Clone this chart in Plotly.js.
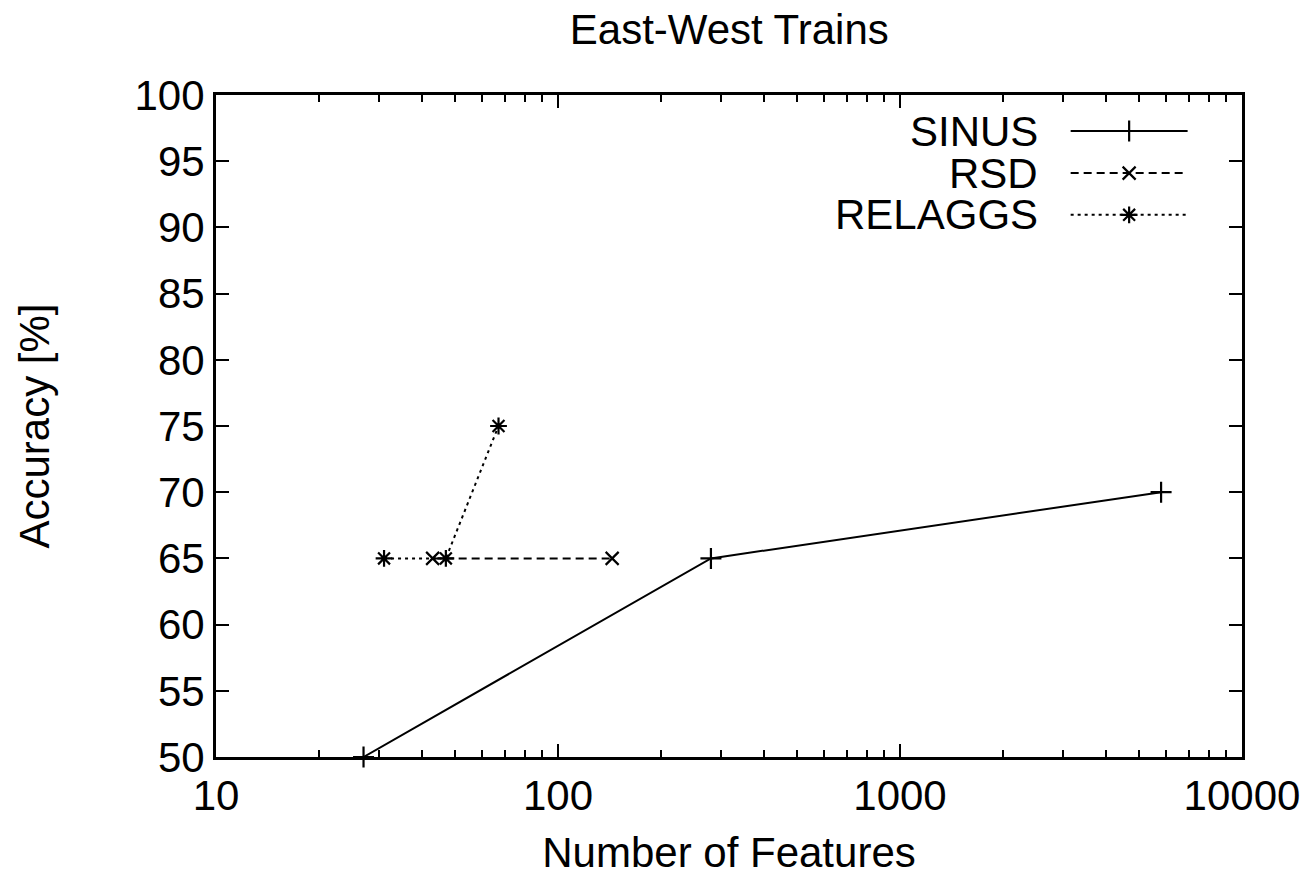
<!DOCTYPE html>
<html>
<head>
<meta charset="utf-8">
<script src="https://cdn.plot.ly/plotly-3.0.1.min.js"></script>
<style>html,body{margin:0;padding:0;background:#fff}#chart{width:1314px;height:890px}</style>
</head>
<body>
<div id="chart"></div>
<script>
// ---- data ----
const seriesNames = ["SINUS", "RSD", "RELAGGS"];
const sinusFeatures = [27, 280, 5800];
const sinusAccuracy = [50, 65, 70];
const rsdFeatures = [43, 144];
const rsdAccuracy = [65, 65];
const relaggsFeatures = [31, 47, 67];
const relaggsAccuracy = [65, 65, 75];
const xTickVals = [10, 100, 1000, 10000];
const xTickText = ["10", "100", "1000", "10000"];
const yTickVals = [50, 55, 60, 65, 70, 75, 80, 85, 90, 95, 100];

// ---- styles ----
const styles = [
  {dash: "solid", symbol: "cross-thin-open", size: 15},
  {dash: "8px,5px", symbol: "x-thin-open", size: 13},
  {dash: "3px,4px", symbol: "asterisk-open", size: 14}
];
const dataX = [sinusFeatures, rsdFeatures, relaggsFeatures];
const dataY = [sinusAccuracy, rsdAccuracy, relaggsAccuracy];

const traces = [];
for (let i = 0; i < 3; i++) {
  traces.push({
    x: dataX[i], y: dataY[i], type: "scatter", mode: "lines+markers",
    name: seriesNames[i], showlegend: false, cliponaxis: false,
    line: {color: "black", width: 2, dash: styles[i].dash},
    marker: {symbol: styles[i].symbol, size: styles[i].size, color: "black",
             line: {color: "black", width: 2.2}}
  });
}

// ---- custom legend (gnuplot style: label on the left, sample on the right) ----
const legRowY = [0.9456, 0.882, 0.819];
const legLineX0 = 0.833, legLineX1 = 0.947, legSymX = 0.89, legTextX = 0.803;
const annotations = [];
for (let i = 0; i < 3; i++) {
  traces.push({
    x: [legLineX0, legLineX1], y: [legRowY[i], legRowY[i]], xaxis: "x2", yaxis: "y2",
    type: "scatter", mode: "lines", showlegend: false, hoverinfo: "skip",
    line: {color: "black", width: 2, dash: styles[i].dash}
  });
  traces.push({
    x: [legSymX], y: [legRowY[i]], xaxis: "x2", yaxis: "y2",
    type: "scatter", mode: "markers", showlegend: false, hoverinfo: "skip",
    marker: {symbol: styles[i].symbol, size: styles[i].size, color: "black",
             line: {color: "black", width: 2.2}}
  });
  annotations.push({
    xref: "x2", yref: "y2", x: legTextX, y: legRowY[i], text: seriesNames[i],
    showarrow: false, xanchor: "right", yanchor: "middle",
    font: {family: "Liberation Sans, Arial, sans-serif", size: 42, color: "black"}
  });
}

const font = {family: "Liberation Sans, Arial, sans-serif", size: 42, color: "black"};

const layout = {
  width: 1314, height: 890,
  margin: {l: 216, r: 72, t: 95, b: 133, pad: 0},
  paper_bgcolor: "white", plot_bgcolor: "white",
  font: font,
  showlegend: false,
  title: {text: "East-West Trains", font: font, x: 0.555, xanchor: "center", y: 0.967, yanchor: "middle"},
  xaxis: {
    type: "log", range: [1, 4],
    tickvals: xTickVals, ticktext: xTickText,
    ticks: "inside", ticklen: 13, tickwidth: 2, tickcolor: "black",
    minor: {ticks: "inside", ticklen: 7, tickwidth: 2, tickcolor: "black", dtick: "D1", showgrid: false},
    showline: true, linecolor: "black", linewidth: 3, mirror: "allticks",
    showgrid: false, zeroline: false,
    tickfont: font,
    title: {text: "Number of Features", font: font, standoff: 20}
  },
  yaxis: {
    range: [50, 100],
    tickvals: yTickVals,
    ticks: "inside", ticklen: 13, tickwidth: 2, tickcolor: "black",
    showline: true, linecolor: "black", linewidth: 3, mirror: "allticks",
    showgrid: false, zeroline: false,
    tickfont: font,
    title: {text: "Accuracy [%]", font: font, standoff: 72}
  },
  xaxis2: {overlaying: "x", range: [0, 1], visible: false, fixedrange: true},
  yaxis2: {overlaying: "y", range: [0, 1], visible: false, fixedrange: true},
  annotations: annotations
};

Plotly.newPlot("chart", traces, layout, {displayModeBar: false, staticPlot: true});
</script>
</body>
</html>
